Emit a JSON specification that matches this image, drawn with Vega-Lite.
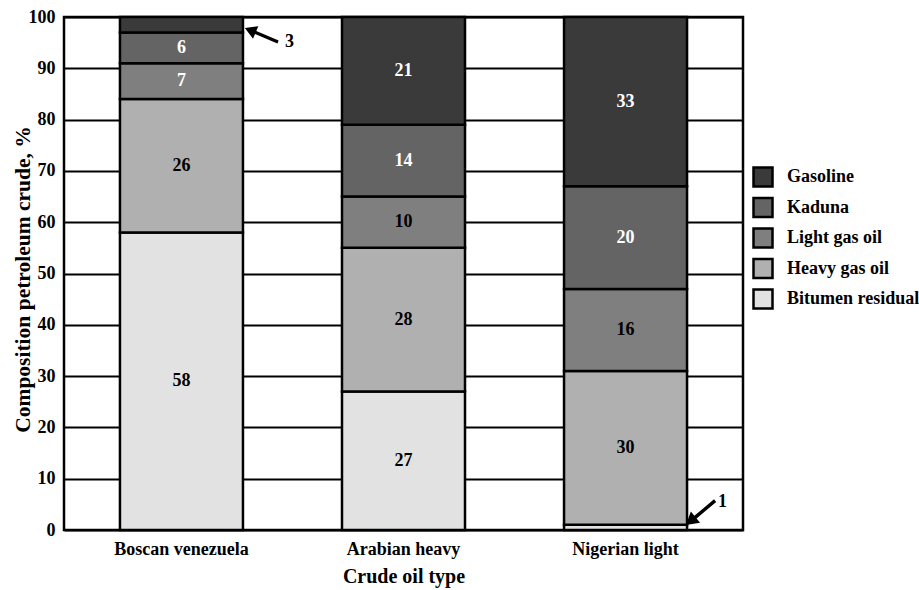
{
  "$schema": "https://vega.github.io/schema/vega-lite/v6.json",
  "autosize": "none",
  "width": 679,
  "height": 513,
  "padding": {"left": 64, "top": 17, "right": 176, "bottom": 60},
  "background": "white",
  "config": {
    "font": "Liberation Serif",
    "view": {"stroke": "black", "strokeWidth": 2.5},
    "axis": {"labelFont": "Liberation Serif", "titleFont": "Liberation Serif", "labelColor": "black", "titleColor": "black", "labelFontWeight": "bold", "titleFontWeight": "bold"},
    "legend": {"labelFont": "Liberation Serif", "labelColor": "black", "labelFontWeight": "bold"},
    "text": {"font": "Liberation Serif", "fontWeight": "bold"}
  },
  "data": {
    "values": [
      {"crude": "Boscan venezuela", "component": "Bitumen residual", "ord": 1, "value": 58},
      {"crude": "Boscan venezuela", "component": "Heavy gas oil", "ord": 2, "value": 26},
      {"crude": "Boscan venezuela", "component": "Light gas oil", "ord": 3, "value": 7},
      {"crude": "Boscan venezuela", "component": "Kaduna", "ord": 4, "value": 6},
      {"crude": "Boscan venezuela", "component": "Gasoline", "ord": 5, "value": 3},
      {"crude": "Arabian heavy", "component": "Bitumen residual", "ord": 1, "value": 27},
      {"crude": "Arabian heavy", "component": "Heavy gas oil", "ord": 2, "value": 28},
      {"crude": "Arabian heavy", "component": "Light gas oil", "ord": 3, "value": 10},
      {"crude": "Arabian heavy", "component": "Kaduna", "ord": 4, "value": 14},
      {"crude": "Arabian heavy", "component": "Gasoline", "ord": 5, "value": 21},
      {"crude": "Nigerian light", "component": "Bitumen residual", "ord": 1, "value": 1},
      {"crude": "Nigerian light", "component": "Heavy gas oil", "ord": 2, "value": 30},
      {"crude": "Nigerian light", "component": "Light gas oil", "ord": 3, "value": 16},
      {"crude": "Nigerian light", "component": "Kaduna", "ord": 4, "value": 20},
      {"crude": "Nigerian light", "component": "Gasoline", "ord": 5, "value": 33}
    ]
  },
  "transform": [
    {"stack": "value", "groupby": ["crude"], "sort": [{"field": "ord", "order": "ascending"}], "as": ["v0", "v1"]}
  ],
  "encoding": {
    "x": {
      "field": "crude",
      "type": "nominal",
      "sort": ["Boscan venezuela", "Arabian heavy", "Nigerian light"],
      "scale": {"paddingInner": 0.446, "paddingOuter": 0.252},
      "axis": {
        "title": "Crude oil type",
        "labelAngle": 0,
        "labelFontSize": 18,
        "titleFontSize": 20,
        "labelPadding": 10,
        "titlePadding": 8,
        "ticks": false,
        "domain": false
      }
    }
  },
  "layer": [
    {
      "mark": {"type": "bar", "stroke": "black", "strokeWidth": 2.5, "opacity": 1},
      "encoding": {
        "y": {
          "field": "v0",
          "type": "quantitative",
          "title": "Composition petroleum crude, %",
          "scale": {"domain": [0, 100], "nice": false},
          "axis": {
            "values": [0, 10, 20, 30, 40, 50, 60, 70, 80, 90, 100],
            "grid": true,
            "gridColor": "black",
            "gridWidth": 2,
            "gridOpacity": 1,
            "ticks": false,
            "domain": false,
            "labelFontSize": 18,
            "labelPadding": 9,
            "titleFontSize": 21.5,
            "titleX": -41,
            "titleY": 262,
            "titleAngle": 270,
            "titleBaseline": "middle",
            "titleAlign": "center"
          }
        },
        "y2": {"field": "v1"},
        "color": {
          "field": "component",
          "type": "nominal",
          "scale": {
            "domain": ["Gasoline", "Kaduna", "Light gas oil", "Heavy gas oil", "Bitumen residual"],
            "range": ["#3a3a3a", "#646464", "#7f7f7f", "#b0b0b0", "#e2e2e2"]
          },
          "legend": {
            "title": null,
            "orient": "none",
            "legendX": 688,
            "legendY": 149,
            "padding": 0,
            "symbolType": "square",
            "symbolSize": 361,
            "symbolStrokeColor": "black",
            "symbolStrokeWidth": 2.5,
            "symbolOpacity": 1,
            "labelFontSize": 18,
            "labelOffset": 13,
            "rowPadding": 0.5
          }
        }
      }
    },
    {
      "transform": [
        {"fold": ["v0", "v1"], "as": ["edge_key", "edge"]},
        {"aggregate": [{"op": "mean", "field": "edge", "as": "mid"}], "groupby": ["crude", "component", "value"]},
        {"filter": "datum.value >= 5"}
      ],
      "mark": {"type": "text", "fontSize": 18, "baseline": "middle", "align": "center"},
      "encoding": {
        "y": {"field": "mid", "type": "quantitative", "title": "Composition petroleum crude, %"},
        "text": {"field": "value", "type": "quantitative"},
        "color": {
          "condition": {"test": "datum.component === 'Gasoline' || datum.component === 'Kaduna' || (datum.component === 'Light gas oil' && datum.crude === 'Boscan venezuela')", "value": "white"},
          "value": "black"
        }
      }
    },
    {
      "transform": [{"filter": "datum.crude === 'Boscan venezuela' && datum.component === 'Gasoline'"}],
      "mark": {"type": "point", "shape": "M-1,-0.09L0.35,-0.09L0.35,-0.38L1,0L0.35,0.38L0.35,0.09L-1,0.09Z", "size": 1296, "angle": 203, "filled": true, "color": "black", "opacity": 1, "xOffset": 80, "yOffset": 18},
      "encoding": {"y": {"field": "v1", "type": "quantitative", "title": "Composition petroleum crude, %"}}
    },
    {
      "transform": [{"filter": "datum.crude === 'Boscan venezuela' && datum.component === 'Gasoline'"}],
      "mark": {"type": "text", "fontSize": 18, "color": "black", "dx": 108, "dy": 25, "baseline": "middle"},
      "encoding": {"y": {"field": "v1", "type": "quantitative", "title": "Composition petroleum crude, %"}, "text": {"field": "value", "type": "quantitative"}}
    },
    {
      "transform": [{"filter": "datum.crude === 'Nigerian light' && datum.component === 'Bitumen residual'"}],
      "mark": {"type": "point", "shape": "M-1,-0.09L0.35,-0.09L0.35,-0.38L1,0L0.35,0.38L0.35,0.09L-1,0.09Z", "size": 1444, "angle": 140, "filled": true, "color": "black", "opacity": 1, "xOffset": 75, "yOffset": -12},
      "encoding": {"y": {"field": "v1", "type": "quantitative", "title": "Composition petroleum crude, %"}}
    },
    {
      "transform": [{"filter": "datum.crude === 'Nigerian light' && datum.component === 'Bitumen residual'"}],
      "mark": {"type": "text", "fontSize": 18, "color": "black", "dx": 97, "dy": -23, "baseline": "middle"},
      "encoding": {"y": {"field": "v1", "type": "quantitative", "title": "Composition petroleum crude, %"}, "text": {"field": "value", "type": "quantitative"}}
    }
  ]
}
